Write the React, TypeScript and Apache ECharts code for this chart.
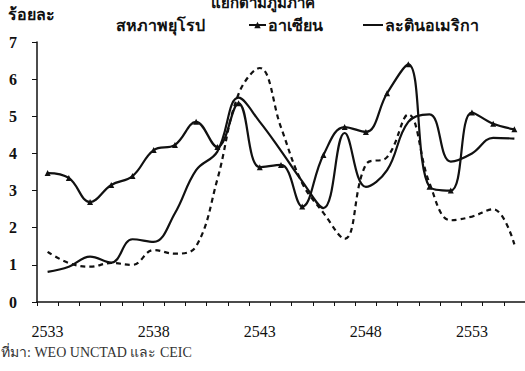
import React, { useEffect, useRef } from "react";
import * as echarts from "echarts";

const years = ["2533","2534","2535","2536","2537","2538","2539","2540","2541","2542","2543","2544","2545","2546","2547","2548","2549","2550","2551","2552","2553","2554","2555"];
const euValues = [1.35, 1.05, 0.95, 1.05, 1.0, 1.4, 1.3, 1.5, 3.3, 5.6, 6.3, 4.7, 3.2, 2.4, 1.7, 3.7, 3.9, 5.05, 3.2, 2.2, 2.3, 2.5, 1.55];
const aseanValues = [3.47, 3.34, 2.69, 3.15, 3.39, 4.09, 4.23, 4.85, 4.17, 5.35, 3.63, 3.69, 2.57, 3.96, 4.71, 4.58, 5.62, 6.4, 3.1, 3.0, 5.1, 4.8, 4.65];
const latamValues = [0.81, 0.95, 1.22, 1.06, 1.69, 1.62, 2.39, 3.55, 4.05, 5.5, 4.85, 4.07, 3.25, 2.53, 4.55, 3.1, 3.55, 4.85, 5.05, 3.78, 4.0, 4.42, 4.4];
const seriesNames = ["สหภาพยุโรป", "อาเซียน", "ละตินอเมริกา"];
const yTicks = [0, 7, 1];

export default function App() {
  const ref = useRef<HTMLDivElement>(null);
  useEffect(() => {
    if (!ref.current) return;
    const chart = echarts.init(ref.current, null, { renderer: "svg" });
    const ink = "#111";
    const thaiFont = "'Noto Sans', 'DejaVu Sans', sans-serif";
    const legendText = { color: ink, fontSize: 16, fontWeight: "bold" as const, fontFamily: thaiFont };
    chart.setOption({
      animation: false,
      backgroundColor: "#fff",
      grid: { left: 37, top: 42, width: 496, height: 260 },
      legend: [
        { data: [seriesNames[0]], left: 105, top: 12, itemWidth: 0, itemHeight: 0, textStyle: legendText, selectedMode: false },
        { data: [seriesNames[1]], left: 243, top: 12, itemWidth: 17, itemHeight: 8, textStyle: { ...legendText, padding: [0, 0, 0, -3] }, selectedMode: false },
        { data: [{ name: seriesNames[2], icon: "rect" }], left: 358, top: 12, itemWidth: 20, itemHeight: 2, textStyle: { ...legendText, padding: [0, 0, 0, -3] }, selectedMode: false },
      ],
      graphic: [
        { type: "text", left: "center", top: -6, style: { text: "แยกตามภูมิภาค", fill: ink, font: `bold 15px ${thaiFont}` } },
        { type: "text", left: 8, top: 6, style: { text: "ร้อยละ", fill: ink, font: `bold 16px ${thaiFont}` } },
        { type: "text", left: 1, top: 345, style: { text: "ที่มา: WEO UNCTAD และ CEIC", fill: "#333", font: `14px 'Liberation Serif', ${thaiFont}` } },
      ],
      xAxis: {
        type: "category",
        data: years,
        boundaryGap: true,
        axisLine: { lineStyle: { color: ink, width: 1.5 } },
        axisTick: { show: true, interval: 0, length: 4, lineStyle: { color: ink } },
        axisLabel: { interval: 4, margin: 21, color: ink, fontSize: 16, fontFamily: "'Liberation Serif', serif" },
        splitLine: { show: false },
      },
      yAxis: {
        type: "value",
        min: yTicks[0],
        max: yTicks[1],
        interval: yTicks[2],
        axisLine: { show: true, lineStyle: { color: ink, width: 1.5 } },
        axisTick: { show: true, length: 5, lineStyle: { color: ink } },
        axisLabel: { margin: 28, color: ink, fontSize: 16, fontWeight: "bold", fontFamily: "'Liberation Serif', serif", align: "left" },
        splitLine: { show: false },
      },
      series: [
        {
          name: seriesNames[0], type: "line", data: euValues, smooth: 0.4, symbol: "none",
          lineStyle: { color: ink, width: 2.2, type: [5, 4] }, itemStyle: { color: ink },
        },
        {
          name: seriesNames[1], type: "line", data: aseanValues, smooth: 0.4, symbol: "triangle", symbolSize: 6,
          lineStyle: { color: ink, width: 2.2 }, itemStyle: { color: ink },
        },
        {
          name: seriesNames[2], type: "line", data: latamValues, smooth: 0.4, symbol: "none",
          lineStyle: { color: ink, width: 2.2 }, itemStyle: { color: ink },
        },
      ],
    });
    return () => chart.dispose();
  }, []);
  return <div ref={ref} style={{ position: "absolute", left: 0, top: 0, width: 525, height: 371 }} />;
}
